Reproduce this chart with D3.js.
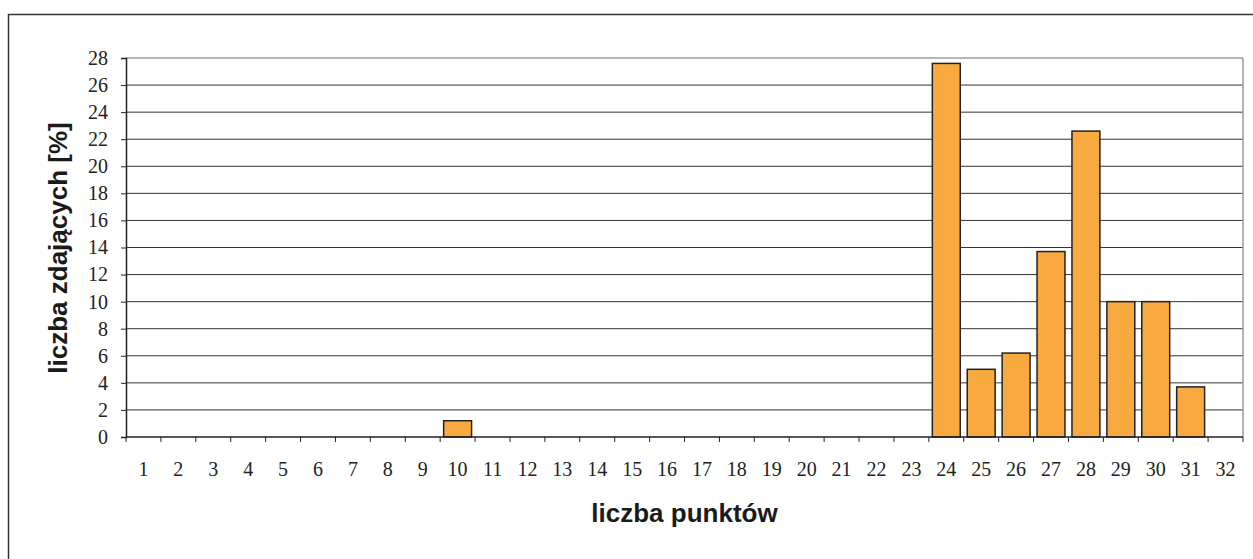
<!DOCTYPE html>
<html lang="pl">
<head>
<meta charset="UTF-8">
<title>liczba zdających</title>
<script src="https://d3js.org/d3.v7.min.js"></script>
<style>
  body { margin: 0; background: #fff; }
  .serif { font-family: "Liberation Serif", "Times New Roman", serif; }
  .sans { font-family: "Liberation Sans", Arial, sans-serif; }
</style>
</head>
<body>
<div id="chart"></div>
<script>
// dane
const punkty = d3.range(1, 33).map(String);
const procent = [0,0,0,0,0,0,0,0,0,1.2,0,0,0,0,0,0,0,0,0,0,0,0,0,27.6,5.0,6.2,13.7,22.6,10.0,10.0,3.7,0];
const yTicks = d3.range(0, 29, 2);

const width = 1253, height = 559;
const m = { left: 126, top: 58, right: 10, bottom: 122 };

const svg = d3.select('#chart').append('svg')
    .attr('width', width)
    .attr('height', height);

// ramka zewnętrzna
svg.append('rect')
    .attr('x', 8.5).attr('y', 14.5)
    .attr('width', 1300).attr('height', 600)
    .attr('fill', 'none')
    .attr('stroke', '#333')
    .attr('stroke-width', 1.5);

const x = d3.scaleBand()
    .domain(punkty)
    .range([m.left, width - m.right])
    .paddingInner(0.2)
    .paddingOuter(0.1);

const y = d3.scaleLinear()
    .domain([0, 28])
    .range([height - m.bottom, m.top]);

// siatka
svg.append('g')
    .selectAll('line')
    .data(yTicks.filter(d => d > 0))
    .enter().append('line')
    .attr('x1', m.left).attr('x2', width - m.right)
    .attr('y1', d => y(d)).attr('y2', d => y(d))
    .attr('stroke', d => d === 28 ? '#a09898' : '#333')
    .attr('stroke-width', d => d === 28 ? 1.5 : 1);

// prawa krawędź obszaru
svg.append('line')
    .attr('x1', width - m.right).attr('x2', width - m.right)
    .attr('y1', m.top).attr('y2', y(0))
    .attr('stroke', '#a09898').attr('stroke-width', 1.5);

// słupki
svg.append('g')
    .selectAll('rect')
    .data(procent.map((v, i) => ({ k: punkty[i], v: v })).filter(d => d.v > 0))
    .enter().append('rect')
    .attr('x', d => x(d.k))
    .attr('y', d => y(d.v))
    .attr('width', x.bandwidth())
    .attr('height', d => y(0) - y(d.v))
    .attr('fill', '#f8aa40')
    .attr('stroke', '#222')
    .attr('stroke-width', 1.5);

// oś Y
const yAxis = svg.append('g')
    .attr('transform', `translate(${m.left},0)`)
    .call(d3.axisLeft(y).tickValues(yTicks).tickSize(5).tickPadding(13));
yAxis.attr('font-family', null).attr('font-size', null);
yAxis.select('.domain').attr('stroke', '#222').attr('stroke-width', 1.5);
yAxis.selectAll('.tick line').attr('stroke', '#222');
yAxis.selectAll('text')
    .attr('class', 'serif')
    .style('font-size', '20px')
    .attr('fill', '#222');

// oś X
const step = x.step();
const xAxis = svg.append('g')
    .attr('transform', `translate(0,${y(0)})`);
xAxis.append('line')
    .attr('x1', m.left).attr('x2', width - m.right)
    .attr('stroke', '#222').attr('stroke-width', 1.5);
xAxis.selectAll('line.t')
    .data(d3.range(0, 33))
    .enter().append('line')
    .attr('class', 't')
    .attr('x1', i => m.left + i * step).attr('x2', i => m.left + i * step)
    .attr('y1', 0).attr('y2', 5)
    .attr('stroke', '#222');
xAxis.selectAll('text')
    .data(punkty)
    .enter().append('text')
    .attr('class', 'serif')
    .attr('x', d => x(d) + x.bandwidth() / 2)
    .attr('y', 39)
    .attr('text-anchor', 'middle')
    .style('font-size', '20px')
    .attr('fill', '#222')
    .text(d => d);

// tytuły osi
svg.append('text')
    .attr('class', 'sans')
    .attr('x', (m.left + width - m.right) / 2)
    .attr('y', 522)
    .attr('text-anchor', 'middle')
    .style('font-weight', 'bold')
    .style('font-size', '26px')
    .attr('fill', '#1a1a1a')
    .text('liczba punktów');

svg.append('text')
    .attr('class', 'sans')
    .attr('transform', 'translate(67,248) rotate(-90)')
    .attr('text-anchor', 'middle')
    .style('font-weight', 'bold')
    .style('font-size', '26px')
    .attr('fill', '#1a1a1a')
    .text('liczba zdających [%]');
</script>
</body>
</html>
